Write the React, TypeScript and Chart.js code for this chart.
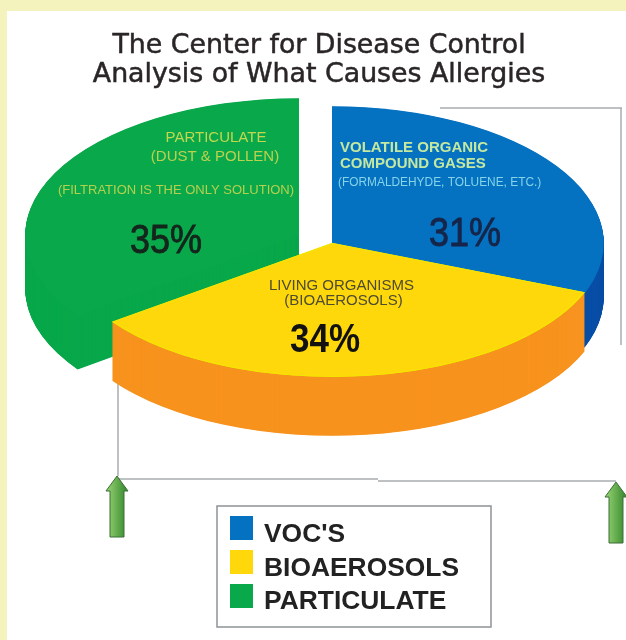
import React, { useEffect, useRef } from "react";
import { Chart, registerables } from "chart.js";

Chart.register(...registerables);

const categories = ["VOC'S", "BIOAEROSOLS", "PARTICULATE"];
const shares = [31, 34, 35];
const topColors = ["#0571c1", "#ffd80c", "#09a84b"];
const sideColors = ["#0a4fa6", "#f7931e", "#09a84b"];
const rimWidths = [0, 2, 0];
const titleLines = ["The Center for Disease Control", "Analysis of What Causes Allergies"];

// exploded placement of each slice on the page
const sliceGeometry = [
  { cx: 332, cy: 243, rx: 272, ry: 137, depth: 54 },
  { cx: 332, cy: 243, rx: 272, ry: 134, depth: 59 },
  { cx: 299, cy: 235, rx: 274, ry: 137, depth: 54 },
];
const drawOrder = [2, 0, 1];

const captions = [
  { text: "PARTICULATE", x: 216, y: 142, font: "15px 'Liberation Sans'", color: "#c3d84e", align: "center" },
  { text: "(DUST & POLLEN)", x: 215, y: 161, font: "15px 'Liberation Sans'", color: "#bcd24e", align: "center" },
  { text: "(FILTRATION IS THE ONLY SOLUTION)", x: 176, y: 194, font: "13px 'Liberation Sans'", color: "#b6d04e", align: "center" },
  { text: "VOLATILE ORGANIC", x: 340, y: 152, font: "bold 15px 'Liberation Sans'", color: "#c4e8a0", align: "left" },
  { text: "COMPOUND GASES", x: 340, y: 168, font: "bold 15px 'Liberation Sans'", color: "#c4e8a0", align: "left" },
  { text: "(FORMALDEHYDE, TOLUENE, ETC.)", x: 338, y: 186, font: "11.9px 'Liberation Sans'", color: "#85d4e8", align: "left" },
  { text: "LIVING ORGANISMS", x: 341.5, y: 290, font: "15px 'Liberation Sans'", color: "#4d4a30", align: "center" },
  { text: "(BIOAEROSOLS)", x: 343.5, y: 305, font: "15px 'Liberation Sans'", color: "#4d4a30", align: "center" },
];
const percentPositions = [
  { x: 465, y: 246, color: "#16264a", font: "36px 'Liberation Sans'", stroke: 0.8 },
  { x: 325, y: 352, color: "#111111", font: "bold 35px 'Liberation Sans'", stroke: 0 },
  { x: 166, y: 253, color: "#14261c", font: "36px 'Liberation Sans'", stroke: 0.8 },
];

function drawArrow(ctx: CanvasRenderingContext2D, x: number, tip: number, base: number) {
  const g = ctx.createLinearGradient(x - 8, 0, x + 8, 0);
  g.addColorStop(0, "#8ccb6a");
  g.addColorStop(1, "#3f8f35");
  ctx.beginPath();
  ctx.moveTo(x, tip);
  ctx.lineTo(x + 11, tip + 15);
  ctx.lineTo(x + 7, tip + 15);
  ctx.lineTo(x + 7, base);
  ctx.lineTo(x - 7, base);
  ctx.lineTo(x - 7, tip + 15);
  ctx.lineTo(x - 11, tip + 15);
  ctx.closePath();
  ctx.fillStyle = g;
  ctx.fill();
  ctx.strokeStyle = "#3c6e38";
  ctx.lineWidth = 1;
  ctx.stroke();
}

function line(ctx: CanvasRenderingContext2D, x1: number, y1: number, x2: number, y2: number) {
  ctx.beginPath();
  ctx.moveTo(x1, y1);
  ctx.lineTo(x2, y2);
  ctx.stroke();
}

const explodedPie = {
  id: "explodedPie",
  beforeDraw(chart: any) {
    const ctx: CanvasRenderingContext2D = chart.ctx;
    ctx.save();
    ctx.fillStyle = "#f5f3bd";
    ctx.fillRect(0, 0, chart.width, chart.height);
    ctx.fillStyle = "#ffffff";
    ctx.fillRect(7, 11, chart.width - 7, chart.height - 11);
    ctx.strokeStyle = "#a9adb0";
    ctx.lineWidth = 1.5;
    line(ctx, 440, 108, 622, 108);
    line(ctx, 621, 108, 621, 345);
    line(ctx, 118, 380, 118, 476);
    line(ctx, 118, 479, 378, 479);
    line(ctx, 378, 481, 616, 481);
    drawArrow(ctx, 117, 476, 537);
    drawArrow(ctx, 616, 482, 543);
    ctx.restore();
  },
  beforeDatasetDraw(chart: any, args: any) {
    const ctx: CanvasRenderingContext2D = chart.ctx;
    const arcs = args.meta.data;
    for (const i of drawOrder) {
      const arc = arcs[i];
      const g = sliceGeometry[i];
      const scaleX = g.rx / arc.outerRadius;
      const scaleY = g.ry / arc.outerRadius;
      const own = arc.options;
      const paint = (dy: number) => {
        ctx.save();
        ctx.translate(g.cx, g.cy + dy);
        ctx.scale(scaleX, scaleY);
        ctx.translate(-arc.x, -arc.y);
        arc.draw(ctx);
        ctx.restore();
      };
      arc.options = { ...own, backgroundColor: sideColors[i], borderWidth: 0 };
      for (let dy = g.depth; dy > 0; dy -= 0.5) paint(dy);
      arc.options = own;
      paint(0);
    }
    return false;
  },
  afterDraw(chart: any) {
    const ctx: CanvasRenderingContext2D = chart.ctx;
    ctx.save();
    ctx.textBaseline = "alphabetic";
    // title
    ctx.fillStyle = "#2a2526";
    ctx.strokeStyle = "#2a2526";
    ctx.lineWidth = 0.5;
    ctx.textAlign = "center";
    ctx.font = "26.8px 'DejaVu Sans'";
    [53, 82].forEach((y, i) => {
      ctx.fillText(titleLines[i], 319, y);
      ctx.strokeText(titleLines[i], 319, y);
    });
    // captions in the slices
    for (const c of captions) {
      ctx.font = c.font;
      ctx.fillStyle = c.color;
      ctx.textAlign = c.align as CanvasTextAlign;
      ctx.fillText(c.text, c.x, c.y);
    }
    ctx.textAlign = "center";
    shares.forEach((v, i) => {
      const p = percentPositions[i];
      ctx.save();
      ctx.translate(p.x, p.y);
      ctx.scale(1, 1.15);
      ctx.font = p.font;
      ctx.fillStyle = p.color;
      ctx.fillText(`${v}%`, 0, 0);
      if (p.stroke) {
        ctx.strokeStyle = p.color;
        ctx.lineWidth = p.stroke;
        ctx.strokeText(`${v}%`, 0, 0);
      }
      ctx.restore();
    });
    // legend
    ctx.strokeStyle = "#8d9396";
    ctx.lineWidth = 1.5;
    ctx.strokeRect(217, 506, 274, 121);
    ctx.textAlign = "left";
    ctx.font = "bold 26.4px 'Liberation Sans'";
    categories.forEach((name, i) => {
      const top = 516 + i * 34;
      ctx.fillStyle = topColors[i];
      ctx.fillRect(230, top, 23, 24);
      ctx.fillStyle = "#222222";
      ctx.fillText(name, 264, top + 26 - i * 0.5);
    });
    ctx.restore();
  },
};

export default function App() {
  const ref = useRef<HTMLCanvasElement>(null);
  useEffect(() => {
    document.body.style.margin = "0";
    const chart = new Chart(ref.current!, {
      type: "pie",
      data: {
        labels: categories,
        datasets: [{ data: shares, backgroundColor: topColors, borderColor: "#f3e500", borderWidth: rimWidths, borderAlign: "inner" }],
      },
      options: {
        responsive: false,
        animation: false,
        plugins: { legend: { display: false }, tooltip: { enabled: false }, title: { display: false } },
      },
      plugins: [explodedPie],
    });
    return () => chart.destroy();
  }, []);
  return (
    <div style={{ width: 626, height: 640 }}>
      <canvas ref={ref} width={626} height={640} style={{ display: "block", filter: "blur(0.7px)" }} />
    </div>
  );
}
